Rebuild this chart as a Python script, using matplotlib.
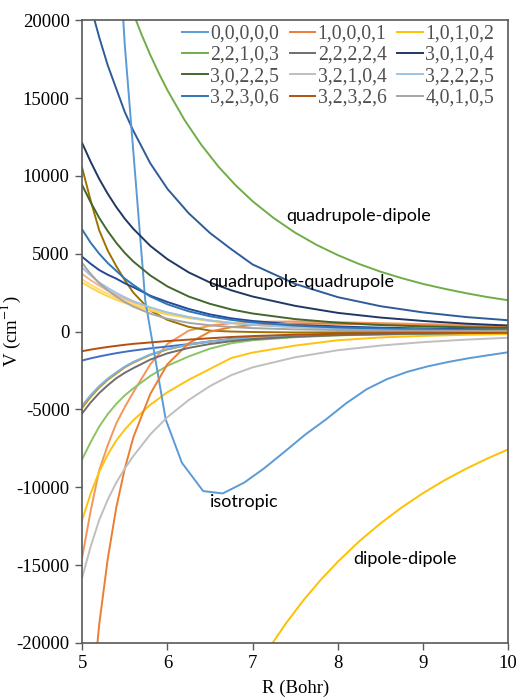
import matplotlib
matplotlib.use('Agg')
import matplotlib.pyplot as plt

plt.rcParams['font.family'] = ['Liberation Serif', 'DejaVu Serif']
plt.rcParams['mathtext.fontset'] = 'stix'
plt.rcParams['axes.unicode_minus'] = False

# common R grid (Bohr) for the smooth curves
r = [5.0, 5.1, 5.2, 5.3, 5.4, 5.5, 5.6, 5.8, 6.0, 6.25, 6.5, 6.75, 7.0, 7.5, 8.0, 8.5, 9.0, 9.5, 10.0]

# isotropic term has its own points
r_iso = [5.26, 5.5, 5.74, 5.98, 6.17, 6.42, 6.65, 6.9, 7.13, 7.38, 7.62, 7.86,
         8.1, 8.34, 8.58, 8.82, 9.06, 9.3, 9.54, 9.78, 10.0]
v_iso = [40000, 18400, 2000, -5650, -8430, -10250, -10400, -9710, -8810, -7700, -6610, -5650,
         -4600, -3700, -3050, -2580, -2230, -1950, -1710, -1510, -1330]

# dipole-dipole and quadrupole-dipole read on a finer grid
r_dd = [7.2, 7.4, 7.6, 7.8, 8.0, 8.25, 8.5, 8.75, 9.0, 9.25, 9.5, 9.75, 10.0]
v_10102 = [-20280, -18680, -17240, -15950, -14790, -13480, -12330, -11300, -10380, -9560,
           -8830, -8170, -7570]
r_qd = [5.5, 5.6, 5.7, 5.8, 5.9, 6.0, 6.2, 6.4, 6.6, 6.8, 7.0, 7.25, 7.5, 7.75, 8.0, 8.25,
        8.5, 8.75, 9.0, 9.25, 9.5, 9.75, 10.0]
v_22103 = [21960, 20440, 19040, 17760, 16590, 15510, 13600, 11980, 10590, 9400, 8370, 7280,
           6350, 5570, 4910, 4340, 3850, 3430, 3060, 2750, 2470, 2220, 2010]

v_10001 = [-32000, -24500, -18800, -14600, -11300, -8800, -6800, -4000, -2100, -750, 0, 280,
           420, 520, 500, 450, 390, 330, 280]
v_22224 = [-5250, -4550, -3950, -3450, -3000, -2650, -2350, -1800, -1400, -1050, -800, -620,
           -490, -330, -230, -170, -130, -100, -80]
v_30104 = [12100, 10900, 9800, 8850, 8000, 7250, 6600, 5500, 4650, 3800, 3150, 2650,
           2250, 1650, 1200, 900, 680, 510, 385]
v_30225 = [9400, 8300, 7300, 6450, 5700, 5050, 4500, 3600, 2900, 2250, 1780, 1420,
           1160, 800, 570, 420, 330, 270, 230]
v_32104 = [-15800, -13800, -12100, -10800, -9700, -8800, -8000, -6600, -5500, -4400, -3500, -2800,
           -2300, -1650, -1200, -900, -680, -520, -400]
v_32225 = [4100, 3600, 3150, 2800, 2480, 2200, 1950, 1550, 1230, 930, 710, 550,
           430, 280, 190, 140, 100, 80, 60]
v_32306 = [6550, 5700, 5000, 4400, 3900, 3400, 3000, 2250, 1750, 1300, 980, 750,
           590, 380, 260, 190, 140, 110, 90]
v_32326 = [-1260, -1160, -1070, -990, -920, -850, -790, -700, -610, -520, -430, -350,
           -290, -200, -140, -100, -70, -50, -40]
v_40105 = [4400, 3700, 3100, 2650, 2250, 1900, 1600, 1150, 820, 560, 400, 290,
           220, 140, 100, 70, 55, 45, 35]

# further terms (not in legend)
v_qq = [23200, 20900, 18900, 17100, 15600, 14100, 12900, 10800, 9170, 7600, 6330, 5290,
        4310, 3060, 2210, 1630, 1230, 935, 725]
v_salmon = [-14500, -11500, -8900, -7300, -5900, -4850, -3900, -2100, -800, 60, 380, 540,
            620, 650, 600, 540, 480, 430, 390]
v_browngold = [10500, 8400, 6500, 5200, 4200, 3300, 2500, 1350, 750, 300, 60, 0,
               -30, -60, -50, -40, -30, -25, -20]
v_blue_neg = [-1860, -1720, -1600, -1490, -1390, -1300, -1220, -1080, -960, -810, -630, -480,
              -380, -270, -210, -180, -160, -150, -150]
v_gold_neg = [-4900, -4200, -3600, -3100, -2700, -2300, -2000, -1500, -1150, -850, -650, -510,
              -410, -270, -190, -140, -110, -90, -70]
v_lblue_neg = [-4750, -4080, -3500, -3020, -2620, -2250, -1950, -1470, -1120, -830, -640, -500,
               -400, -260, -180, -130, -100, -80, -60]
v_green_neg = [-8200, -7100, -6100, -5300, -4650, -4100, -3650, -2850, -2200, -1600, -1100, -750,
               -560, -360, -250, -180, -140, -110, -90]
v_yellow_neg = [-12100, -10400, -9000, -7900, -7000, -6300, -5700, -4700, -3900, -3100, -2400, -1700,
                -1350, -900, -560, -380, -280, -210, -160]
v_navy2 = [4800, 4350, 3950, 3650, 3400, 3100, 2850, 2300, 1900, 1450, 1100, 850,
           680, 450, 330, 250, 200, 160, 130]
v_salmon2 = [3700, 3300, 2950, 2630, 2350, 2100, 1880, 1500, 1200, 920, 710, 560,
             440, 290, 200, 140, 100, 80, 60]
v_lyellow = [3350, 3000, 2700, 2430, 2180, 1960, 1770, 1430, 1160, 900, 700, 560,
             450, 300, 210, 150, 110, 90, 70]
v_yellow2 = [3150, 2820, 2530, 2270, 2040, 1840, 1660, 1350, 1100, 860, 680, 540,
             440, 300, 210, 150, 115, 90, 75]

fig = plt.figure(figsize=(5.17, 6.98), dpi=100)
ax = fig.add_axes([0.159, 0.079, 0.824, 0.892])

lw = 1.4
# unlabelled curves
ax.plot(r, v_qq, color='#2E5C9A', lw=lw)
ax.plot(r, v_salmon, color='#F4955A', lw=lw)
ax.plot(r, v_browngold, color='#9C7200', lw=lw)
ax.plot(r, v_blue_neg, color='#3F6FC6', lw=lw)
ax.plot(r, v_gold_neg, color='#C69500', lw=lw)
ax.plot(r, v_lblue_neg, color='#7FB2E0', lw=lw)
ax.plot(r, v_green_neg, color='#8CC461', lw=lw)
ax.plot(r, v_yellow_neg, color='#FFC20E', lw=lw)
ax.plot(r, v_navy2, color='#24489A', lw=lw)
ax.plot(r, v_salmon2, color='#F7B28A', lw=lw)
ax.plot(r, v_lyellow, color='#FFDB70', lw=lw)
ax.plot(r, v_yellow2, color='#FFD34D', lw=lw)

named = []
named += ax.plot(r_iso, v_iso, color='#5B9BD5', lw=lw, label='0,0,0,0,0')
named += ax.plot(r, v_10001, color='#ED7D31', lw=lw, label='1,0,0,0,1')
named += ax.plot(r_dd, v_10102, color='#FFC000', lw=lw, label='1,0,1,0,2')
named += ax.plot(r_qd, v_22103, color='#70AD47', lw=lw, label='2,2,1,0,3')
named += ax.plot(r, v_22224, color='#6E6E6E', lw=lw, label='2,2,2,2,4')
named += ax.plot(r, v_30104, color='#203864', lw=lw, label='3,0,1,0,4')
named += ax.plot(r, v_30225, color='#43682B', lw=lw, label='3,0,2,2,5')
named += ax.plot(r, v_32104, color='#BFBFBF', lw=lw, label='3,2,1,0,4')
named += ax.plot(r, v_32225, color='#9DC3E6', lw=lw, label='3,2,2,2,5')
named += ax.plot(r, v_32306, color='#2E75B6', lw=lw, label='3,2,3,0,6')
named += ax.plot(r, v_32326, color='#B4500F', lw=lw, label='3,2,3,2,6')
named += ax.plot(r, v_40105, color='#A5A5A5', lw=lw, label='4,0,1,0,5')

ax.set_xlim(5, 10)
ax.set_ylim(-20000, 20000)
ax.set_xticks([5, 6, 7, 8, 9, 10])
ax.set_yticks(range(-20000, 20001, 5000))
ax.tick_params(direction='out', length=5, width=1, color='#595959', labelsize=13.5, pad=4)
for s in ax.spines.values():
    s.set_color('#595959')
    s.set_linewidth(1.2)

ax.set_xlabel('R (Bohr)', fontsize=13.5, labelpad=5)
ax.set_ylabel('V (cm$^{-1}$)', fontsize=13.5)
ax.yaxis.set_label_coords(-0.138, 0.5)

# legend filled row by row like the original
order = [0, 3, 6, 9, 1, 4, 7, 10, 2, 5, 8, 11]
hs = [named[i] for i in order]
ax.legend(hs, [h.get_label() for h in hs], ncol=3, loc='upper right',
          bbox_to_anchor=(0.995, 1.012), frameon=False,
          fontsize=14.2, handlelength=1.3, handletextpad=0.12, columnspacing=0.55,
          labelspacing=0.12, borderaxespad=0.2, labelcolor='#505050')

lab = dict(fontsize=13, family=['Lato', 'DejaVu Sans'], color='black', va='center')
ax.text(7.39, 7400, 'quadrupole-dipole', **lab)
ax.text(6.48, 3160, 'quadrupole-quadrupole', **lab)
ax.text(6.5, -10960, 'isotropic', **lab)
ax.text(8.18, -14630, 'dipole-dipole', **lab)

fig.savefig('out.png', dpi=100)
